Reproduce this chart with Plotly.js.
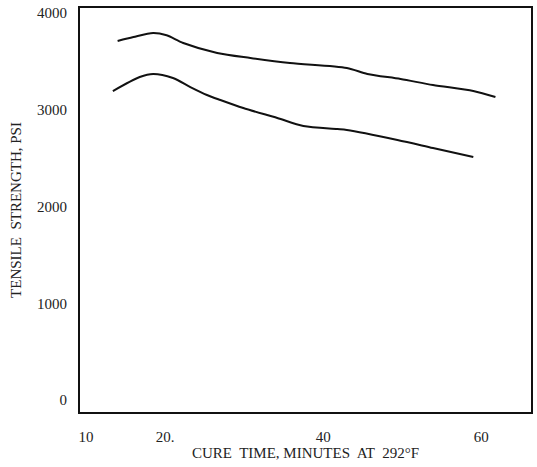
<!DOCTYPE html>
<html>
<head>
<meta charset="utf-8">
<script src="https://cdn.plot.ly/plotly-3.0.1.min.js"></script>
<style>html,body{margin:0;padding:0;background:#fff;}#chart{width:537px;height:467px;}</style>
</head>
<body>
<div id="chart"></div>
<script>
// Upper curve
const upperTime = [14.0, 16.0, 18.5, 20.2, 22.3, 26.6, 30.8, 35.8, 43.0, 45.6, 49.8, 53.9, 59.0, 61.8];
const upperPsi  = [3711, 3752, 3794, 3770, 3690, 3587, 3535, 3483, 3432, 3370, 3318, 3256, 3194, 3132];
// Lower curve
const lowerTime = [13.4, 16.8, 18.5, 21.0, 23.2, 25.3, 27.0, 29.9, 34.2, 37.5, 41.8, 43.0, 49.4, 53.9, 59.0];
const lowerPsi  = [3194, 3339, 3370, 3328, 3235, 3153, 3101, 3018, 2915, 2832, 2801, 2791, 2688, 2605, 2512];

const xTicks = [10, 20, 40, 60];
const xTickText = ['10', '20.', '40', '60'];
const yTicks = [0, 1000, 2000, 3000, 4000];
const yTickText = ['0', '1000', '2000', '3000', '4000'];

const lineStyle = {color: '#111', width: 2, shape: 'spline', smoothing: 0.8};
const traces = [
  {x: upperTime, y: upperPsi, mode: 'lines', line: lineStyle, hoverinfo: 'skip'},
  {x: lowerTime, y: lowerPsi, mode: 'lines', line: lineStyle, hoverinfo: 'skip'}
];

const font = {family: 'Liberation Serif, Times New Roman, serif', color: '#222'};
const layout = {
  width: 537, height: 467,
  margin: {l: 80, r: 6, t: 8, b: 55},
  paper_bgcolor: '#fff', plot_bgcolor: '#fff',
  showlegend: false,
  font: font,
  xaxis: {
    range: [9.24, 66.3], tickvals: xTicks, ticktext: xTickText,
    showgrid: false, zeroline: false, showline: true, mirror: true,
    linecolor: '#111', linewidth: 2, ticks: '', ticklabelstandoff: 10,
    tickfont: {family: font.family, size: 15, color: '#222'},
    title: {text: 'CURE  TIME, MINUTES  AT  292°F', font: {family: font.family, size: 15, color: '#222'}, standoff: 0}
  },
  yaxis: {
    range: [-124, 4052], tickvals: yTicks, ticktext: yTickText,
    showgrid: false, zeroline: false, showline: true, mirror: true,
    linecolor: '#111', linewidth: 2, ticks: '', ticklabelstandoff: 8,
    tickfont: {family: font.family, size: 15, color: '#222'},
    title: {text: 'TENSILE  STRENGTH, PSI', font: {family: font.family, size: 15, color: '#222'}, standoff: 12}
  }
};
Plotly.newPlot('chart', traces, layout, {staticPlot: true, displayModeBar: false});
</script>
</body>
</html>
